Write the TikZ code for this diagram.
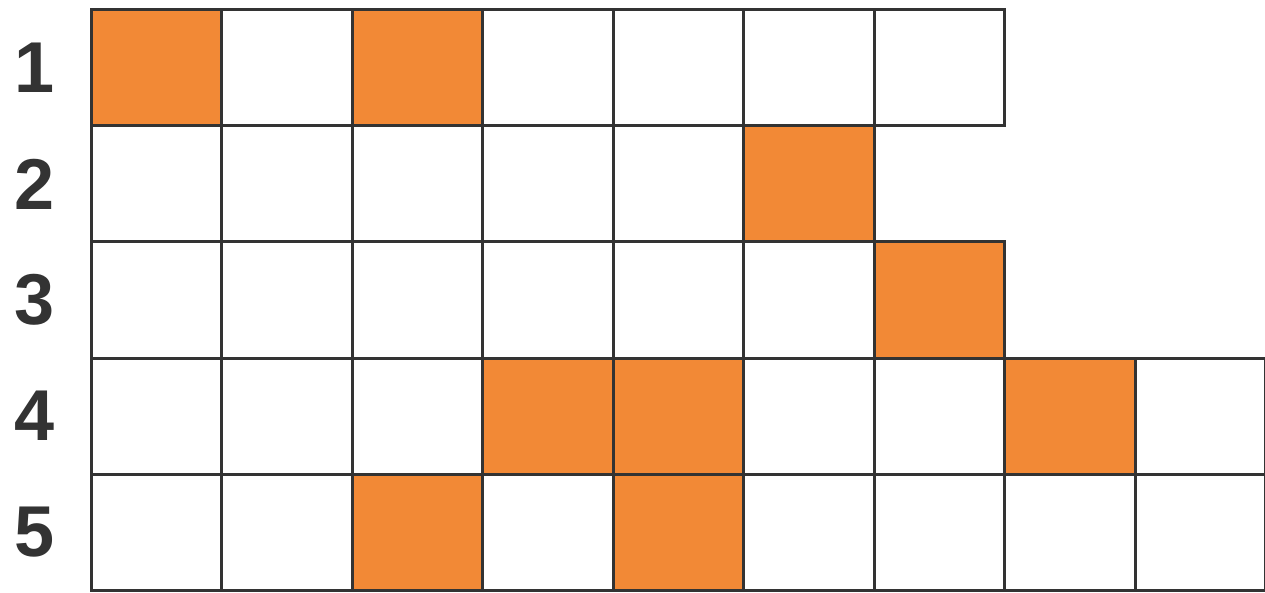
\documentclass[tikz,border=0pt]{standalone}
\usepackage{fontspec}
\setmainfont{Liberation Sans}
\usepackage{tikz}
\usetikzlibrary{positioning}
\definecolor{tangerine}{RGB}{242,137,54}
\definecolor{gridline}{RGB}{51,51,51}

\begin{document}
\begin{tikzpicture}[x=1pt, y=-1pt,
    cell/.style={draw=gridline, line width=3pt, fill=white},
    hit/.style={cell, fill=tangerine},
    rowlabel/.style={font=\fontsize{72}{72}\selectfont\bfseries, text=gridline, inner sep=0pt}]
  \useasboundingbox (0,0) rectangle (1265,593);
  % Rows: number / cells in row / orange cells
  \foreach \r/\n/\hits in {1/7/{1,3}, 2/6/{6}, 3/7/{7}, 4/9/{4,5,8}, 5/9/{3,5}} {
    \pgfmathsetmacro{\top}{10+(\r-1)*116}
    \foreach \c in {1,...,\n}
      \draw[cell] ({91+(\c-1)*130.5}, \top) rectangle ++(130.5, 116);
    \foreach \h in \hits
      \draw[hit] ({91+(\h-1)*130.5}, \top) rectangle ++(130.5, 116);
    \node[rowlabel] (row\r) at (35, \top+58) {\r};
  }
\end{tikzpicture}
\end{document}
